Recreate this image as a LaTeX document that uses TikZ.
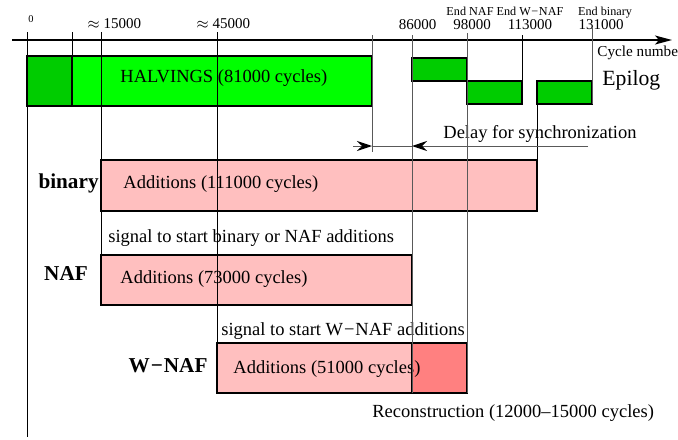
\documentclass[tikz,border=0pt]{standalone}
\usepackage{fontspec}
\setmainfont{Liberation Serif}
\usetikzlibrary{arrows.meta}
\definecolor{HalvDark}{RGB}{0,204,0}
\definecolor{HalvLight}{RGB}{0,255,0}
\definecolor{AddPink}{RGB}{255,191,191}
\definecolor{RecRed}{RGB}{255,128,128}
\tikzset{
    phasebox/.style={draw=black, line width=0.65pt},
    tickline/.style={black, line width=0.5pt},
    greyline/.style={black!65, line width=0.5pt},
    delaytip/.style={-{Stealth[length=7.5pt, width=5pt, inset=2.5pt, color=black]}},
    maintext/.style={anchor=base west, inner sep=0pt, font=\fontsize{9.25}{11}\selectfont},
    ticktext/.style={anchor=base, inner sep=0pt, font=\fontsize{7.5}{9}\selectfont},
    endtext/.style={anchor=base, inner sep=0pt, font=\fontsize{6.1}{7}\selectfont},
    rowtext/.style={anchor=base, inner sep=0pt, font=\bfseries\fontsize{10.6}{12}\selectfont},
}

\begin{document}
\begin{tikzpicture}[x=0.5pt, y=-0.5pt]
    \useasboundingbox (0,0) rectangle (678,439);

    % Halvings
    \draw[phasebox, fill=HalvLight] (27,56) rectangle (372,106);
    \draw[phasebox, fill=HalvDark] (27,56) rectangle (72,106);
    \node[maintext] (halv) at (120,82) {HALVINGS (81000 cycles)};

    % Epilog
    \draw[phasebox, fill=HalvDark] (412,58) rectangle (467,81);
    \draw[phasebox, fill=HalvDark] (467,81) rectangle (522,104);
    \draw[phasebox, fill=HalvDark] (537,81) rectangle (592,104);
    \node[maintext, font=\fontsize{10.85}{13}\selectfont] (epilog) at (602,85) {Epilog};

    % Additions
    \draw[phasebox, fill=AddPink] (101,160) rectangle (537,211);
    \node[maintext] (addbin) at (123,188) {Additions (111000 cycles)};
    \draw[phasebox, fill=AddPink] (101,255) rectangle (412,305);
    \node[maintext] (addnaf) at (120,283) {Additions (73000 cycles)};
    \draw[phasebox, fill=AddPink] (217,343) rectangle (412,393);
    \draw[phasebox, fill=RecRed] (412,343) rectangle (467,393);
    \node[maintext] (addwnaf) at (233,373) {Additions (51000 cycles)};

    % row names
    \node[rowtext, anchor=base east] (binary) at (99,188) {binary};
    \node[rowtext] (naf) at (66,280) {NAF};
    \node[rowtext] (wnaf) at (168,372) {W\kern0.05em−\kern0.05emNAF};

    % signals and notes
    \node[maintext] (sig1) at (108,242) {signal to start binary or NAF additions};
    \node[maintext] (sig2) at (221,335) {signal to start W\kern0.05em−\kern0.05emNAF additions};
    \node[maintext] (recon) at (372,417) {Reconstruction (12000--15000 cycles)};
    \node[maintext] (delay) at (443,138) {Delay for synchronization};

    % time axis
    \draw[-{Stealth[length=8.5pt, width=4.5pt, inset=2pt]}, line width=0.6pt] (12,40) -- (672,40);
    \node[maintext, font=\fontsize{7.6}{9}\selectfont] (cycles) at (597,56) {Cycle number};
    \draw[tickline] (27,32) -- (27,437);
    \draw[tickline] (72,32) -- (72,106);
    \draw[tickline] (101,32) -- (101,305);
    \draw[tickline] (217,32) -- (217,393);
    \draw[greyline] (372,35) -- (372,152);
    \draw[greyline] (412,35) -- (412,393);
    \draw[greyline] (467,33) -- (467,393);
    \draw[tickline] (522,35) -- (522,104);
    \draw[tickline] (537,81) -- (537,160);
    \draw[greyline] (592,28) -- (592,104);

    % tick labels
    \node[ticktext, font=\fontsize{5.2}{6}\selectfont] (t0) at (31,22) {0};
    \node[ticktext, anchor=base west] (t15) at (87,28) {$\approx$ 15000};
    \node[ticktext, anchor=base west] (t45) at (196,28) {$\approx$ 45000};
    \node[ticktext] (t86) at (417.5,29) {86000};
    \node[ticktext] (t98) at (472,29) {98000};
    \node[ticktext] (t113) at (530,29) {113000};
    \node[ticktext] (t131) at (601,29) {131000};
    \node[endtext] (endnaf) at (470,16) {End NAF};
    \node[endtext] (endwnaf) at (530,16) {End W\kern0.05em−\kern0.05emNAF};
    \node[endtext] (endbin) at (605,16) {End binary};

    % delay arrows
    \coordinate (dstart) at (353,146);
    \coordinate (dhalv) at (372,146);
    \coordinate (dadd) at (412,146);
    \coordinate (dend) at (588,146);
    \draw[greyline] (dhalv) -- (dadd);
    \draw[greyline, delaytip] (dstart) -- (dhalv);
    \draw[greyline, delaytip] (dend) -- (dadd);
\end{tikzpicture}
\end{document}
